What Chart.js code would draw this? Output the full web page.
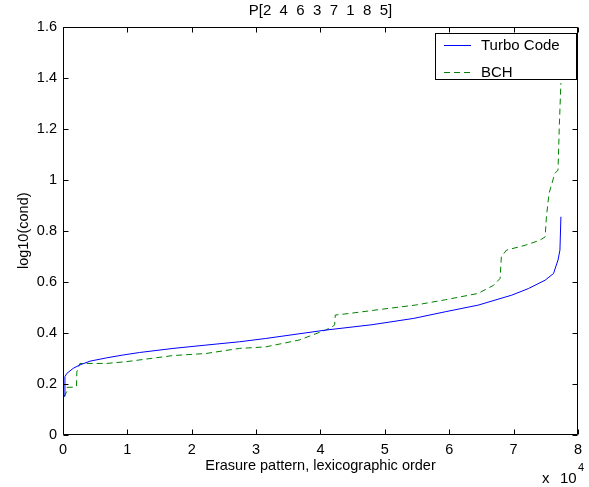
<!DOCTYPE html>
<html>
<head>
<meta charset="UTF-8">
<title>P[2 4 6 3 7 1 8 5]</title>
<script src="https://cdn.jsdelivr.net/npm/chart.js"></script>
<style>
    body { margin: 0; background: #ffffff; }
    #wrap { width: 589px; height: 487px; position: relative; }
</style>
</head>
<body>
<div id="wrap"><canvas id="grafico"></canvas></div>
<script>
    // datos
    const titulo = 'P[2  4  6  3  7  1  8  5]';
    const xTicks = [0, 10000, 20000, 30000, 40000, 50000, 60000, 70000, 80000];
    const xTickLabels = ['0', '1', '2', '3', '4', '5', '6', '7', '8'];
    const yTicks = [0, 0.2, 0.4, 0.6, 0.8, 1, 1.2, 1.4, 1.6];
    const yTickLabels = ['0', '0.2', '0.4', '0.6', '0.8', '1', '1.2', '1.4', '1.6'];

    const turboX = [200, 300, 600, 1600, 2600, 4200, 6800, 9300, 11900, 17100, 22200, 27400, 31500,
        40800, 48000, 54500, 59400, 64500, 69700, 72300, 74900, 76200, 76900, 77200, 77350];
    const turboY = [0.15, 0.227, 0.24, 0.26, 0.273, 0.288, 0.301, 0.312, 0.322, 0.338, 0.351, 0.364, 0.377,
        0.41, 0.431, 0.456, 0.482, 0.508, 0.547, 0.573, 0.606, 0.632, 0.685, 0.724, 0.855];

    const bchX = [150, 570, 600, 1860, 2100, 2150, 2630, 6760, 9860, 17100, 22200, 27400, 31500, 36700,
        40800, 41800, 42200, 42300, 44400, 49600, 54700, 59400, 64500, 66900, 67900, 68100, 68900,
        71800, 74100, 74900, 75100, 75500, 76400, 76900, 77100, 77350];
    const bchY = [0.148, 0.168, 0.185, 0.186, 0.19, 0.246, 0.279, 0.279, 0.286, 0.31, 0.318, 0.338, 0.344, 0.371,
        0.41, 0.423, 0.43, 0.469, 0.475, 0.492, 0.508, 0.529, 0.554, 0.586, 0.613, 0.698, 0.724,
        0.743, 0.763, 0.776, 0.854, 0.946, 1.025, 1.038, 1.21, 1.38];

    const puntos = (xs, ys) => xs.map((v, i) => ({ x: v, y: ys[i] }));
    const fuente = "'Liberation Sans', Arial, sans-serif";

    Chart.defaults.font.family = fuente;
    Chart.defaults.font.size = 14.5;
    Chart.defaults.color = '#000';

    // caja, marcas hacia dentro, leyenda y el "x 10^4"
    const cajaPlugin = {
        id: 'caja',
        afterDraw(chart) {
            const { ctx, chartArea: a, scales: { x, y } } = chart;
            const L = Math.round(a.left) + 0.5, R = Math.round(a.right) - 0.5;
            const T = Math.round(a.top) + 0.5, B = Math.round(a.bottom) - 0.5;
            ctx.save();
            ctx.strokeStyle = '#000';
            ctx.lineWidth = 1;
            ctx.setLineDash([]);
            ctx.beginPath();
            ctx.rect(L, T, R - L, B - T);
            xTicks.forEach(v => {
                const px = Math.round(x.getPixelForValue(v)) + 0.5;
                ctx.moveTo(px, B); ctx.lineTo(px, B - 5);
                ctx.moveTo(px, T); ctx.lineTo(px, T + 5);
            });
            yTicks.forEach(v => {
                const py = Math.round(y.getPixelForValue(v)) + 0.5;
                ctx.moveTo(L, py); ctx.lineTo(L + 5, py);
                ctx.moveTo(R, py); ctx.lineTo(R - 5, py);
            });
            ctx.stroke();

            // leyenda
            const lx = 435.5, ly = 33.5, lw = 141, lh = 46;
            ctx.fillStyle = '#fff';
            ctx.fillRect(lx, ly, lw, lh);
            ctx.strokeRect(lx, ly, lw, lh);
            ctx.font = '15px ' + fuente;
            ctx.textBaseline = 'middle';
            ctx.textAlign = 'left';
            const filas = [45.5, 72.5];
            chart.data.datasets.forEach((ds, i) => {
                ctx.strokeStyle = ds.borderColor;
                ctx.setLineDash(ds.borderDash || []);
                ctx.beginPath();
                ctx.moveTo(444, filas[i]); ctx.lineTo(471, filas[i]);
                ctx.stroke();
                ctx.fillStyle = '#000';
                ctx.fillText(ds.label, 481, filas[i]);
            });

            // factor de escala del eje x
            ctx.setLineDash([]);
            ctx.font = '15px ' + fuente;
            ctx.fillText('x', 542, 478.5);
            ctx.fillText('10', 560, 478.5);
            ctx.font = '11px ' + fuente;
            ctx.fillText('4', 578, 467.5);
            ctx.restore();
        }
    };

    new Chart(document.getElementById('grafico'), {
        type: 'scatter',
        data: {
            datasets: [{
                label: 'Turbo Code',
                data: puntos(turboX, turboY),
                showLine: true,
                borderColor: '#0000ff',
                borderWidth: 1,
                pointRadius: 0,
                tension: 0
            }, {
                label: 'BCH',
                data: puntos(bchX, bchY),
                showLine: true,
                borderColor: '#008000',
                borderWidth: 1,
                borderDash: [6, 4],
                pointRadius: 0,
                tension: 0
            }]
        },
        options: {
            responsive: true,
            maintainAspectRatio: false,
            animation: false,
            layout: { padding: { left: 0, right: 10, top: 0, bottom: 0 } },
            plugins: {
                legend: { display: false },
                tooltip: { enabled: false },
                title: {
                    display: true,
                    fullSize: false,
                    text: titulo,
                    font: { size: 15, weight: 'normal' },
                    padding: { top: 2, bottom: 7 }
                }
            },
            scales: {
                x: {
                    type: 'linear',
                    min: 0,
                    max: 80000,
                    afterBuildTicks: s => { s.ticks = xTicks.map(v => ({ value: v })); },
                    afterFit: s => { s.height = 52.5; },
                    ticks: {
                        padding: 7,
                        maxRotation: 0,
                        callback: (v, i) => xTickLabels[i]
                    },
                    grid: { display: false, drawTicks: false },
                    border: { display: false },
                    title: {
                        display: true,
                        text: 'Erasure pattern, lexicographic order',
                        padding: { top: 0, bottom: 12.5 }
                    }
                },
                y: {
                    min: 0,
                    max: 1.6,
                    afterBuildTicks: s => { s.ticks = yTicks.map(v => ({ value: v })); },
                    afterFit: s => { s.width = 63; },
                    ticks: {
                        padding: 6,
                        callback: (v, i) => yTickLabels[i]
                    },
                    grid: { display: false, drawTicks: false },
                    border: { display: false },
                    title: {
                        display: true,
                        text: 'log10(cond)',
                        padding: { top: 15, bottom: 0 }
                    }
                }
            }
        },
        plugins: [cajaPlugin]
    });
</script>
</body>
</html>
